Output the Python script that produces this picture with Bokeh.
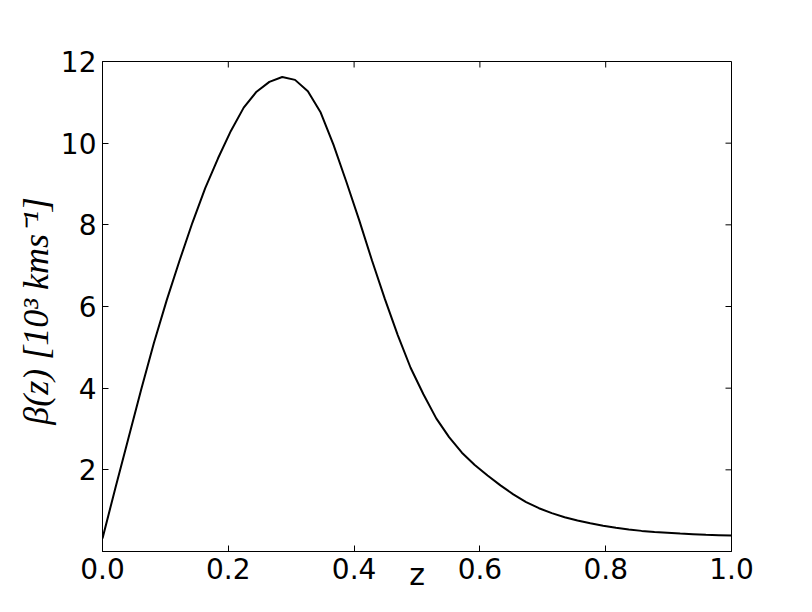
import math
from bokeh.plotting import figure
from bokeh.models import FixedTicker, Range1d, PrintfTickFormatter
from bokeh.embed import file_html
from bokeh.resources import INLINE

# redshift samples (50 points from 0 to 1)
z_vals = [0.0000, 0.0204, 0.0408, 0.0612, 0.0816, 0.1020, 0.1224, 0.1429, 0.1633, 0.1837,
          0.2041, 0.2245, 0.2449, 0.2653, 0.2857, 0.3061, 0.3265, 0.3469, 0.3673, 0.3878,
          0.4082, 0.4286, 0.4490, 0.4694, 0.4898, 0.5102, 0.5306, 0.5510, 0.5714, 0.5918,
          0.6122, 0.6327, 0.6531, 0.6735, 0.6939, 0.7143, 0.7347, 0.7551, 0.7755, 0.7959,
          0.8163, 0.8367, 0.8571, 0.8776, 0.8980, 0.9184, 0.9388, 0.9592, 0.9796, 1.0000]
# beta(z) in 10^3 km/s
beta_vals = [0.32, 1.55, 2.75, 3.95, 5.10, 6.15, 7.12, 8.05, 8.90, 9.63,
             10.30, 10.87, 11.26, 11.50, 11.62, 11.55, 11.27, 10.75, 9.96, 9.05,
             8.11, 7.12, 6.18, 5.30, 4.50, 3.85, 3.26, 2.80, 2.42, 2.12,
             1.86, 1.62, 1.40, 1.21, 1.06, 0.94, 0.84, 0.76, 0.69, 0.63,
             0.58, 0.54, 0.505, 0.48, 0.46, 0.44, 0.425, 0.41, 0.40, 0.39]

x_ticks = [0.0, 0.2, 0.4, 0.6, 0.8, 1.0]
y_ticks = [2, 4, 6, 8, 10, 12]
x_lo, x_hi = 0.0, 1.0
y_lo, y_hi = 0.0, 12.0

p = figure(width=796, height=596, output_backend="svg", toolbar_location=None,
           x_range=Range1d(x_lo, x_hi), y_range=Range1d(y_lo, y_hi),
           min_border_left=102, min_border_right=65, min_border_top=61, min_border_bottom=45)
p.grid.visible = False
p.background_fill_color = "white"
p.border_fill_color = "white"
p.outline_line_color = "black"
p.outline_line_width = 1

p.line(z_vals, beta_vals, line_color="black", line_width=2)

# mirrored inward ticks on top and right edges
p.ray(x=x_ticks, y=[y_hi] * len(x_ticks), length=6, length_units="screen",
      angle=-math.pi / 2, line_color="black", line_width=1)
p.ray(x=[x_hi] * len(y_ticks), y=y_ticks, length=6, length_units="screen",
      angle=math.pi, line_color="black", line_width=1)

font = "DejaVu Sans"
xa = p.xaxis[0]
xa.ticker = FixedTicker(ticks=x_ticks)
xa.formatter = PrintfTickFormatter(format="%.1f")
xa.axis_label = "z"
xa.axis_label_text_font = font
xa.axis_label_text_font_style = "normal"
xa.axis_label_text_font_size = "30px"
xa.axis_label_text_color = "black"
xa.axis_label_standoff = -25

ya = p.yaxis[0]
ya.ticker = FixedTicker(ticks=y_ticks)
ya.axis_label = "β(z)  [10³ kms⁻¹]"
ya.axis_label_text_font = "Liberation Serif"
ya.axis_label_text_font_style = "italic"
ya.axis_label_text_font_size = "36px"
ya.axis_label_text_color = "black"
ya.axis_label_standoff = 2

for ax in [xa, ya]:
    ax.major_label_text_font = font
    ax.major_label_text_font_size = "28px"
    ax.major_label_text_color = "black"
    ax.major_tick_in = 6
    ax.major_tick_out = 0
    ax.major_tick_line_color = "black"
    ax.minor_tick_line_color = None
    ax.major_label_standoff = 6
    ax.axis_line_color = "black"

open("out.html", "w").write(file_html(p, INLINE))
